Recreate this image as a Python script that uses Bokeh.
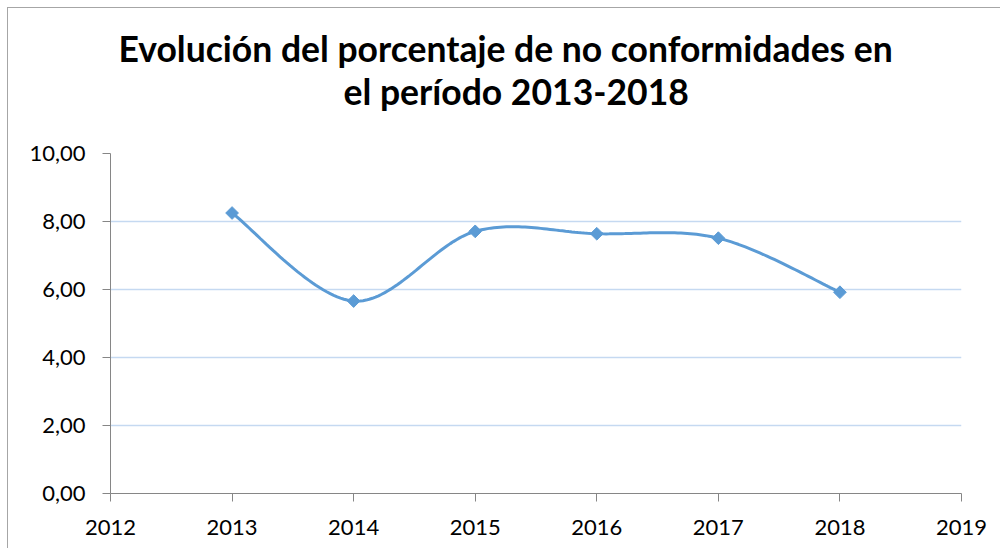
import numpy as np
from bokeh.plotting import figure
from bokeh.models import FixedTicker, Title
from bokeh.embed import file_html
from bokeh.resources import INLINE

# ---- data ----
years = [2013, 2014, 2015, 2016, 2017, 2018]
values = [8.25, 5.66, 7.71, 7.64, 7.51, 5.92]
x_ticks = [2012, 2013, 2014, 2015, 2016, 2017, 2018, 2019]
y_ticks = [0, 2, 4, 6, 8, 10]
y_tick_labels = ["0,00", "2,00", "4,00", "6,00", "8,00", "10,00"]
title_lines = ["Evolución del porcentaje de no conformidades en",
               "el período 2013-2018"]

BLUE = "#5B9BD5"
FONT = "Lato"

# ---- smooth curve (Excel-like Bezier smoothing through the data points) ----
def smooth(xs, ys, n=40):
    P = np.column_stack([xs, ys]).astype(float)
    m = len(P)
    out = []
    for i in range(m - 1):
        p0 = P[i]
        p3 = P[i + 1]
        prev = P[i - 1] if i > 0 else P[i]
        nxt = P[i + 2] if i + 2 < m else P[i + 1]
        c1 = p0 + (p3 - prev) / 6.0
        c2 = p3 - (nxt - p0) / 6.0
        t = np.linspace(0, 1, n)[:, None]
        seg = ((1 - t) ** 3) * p0 + 3 * ((1 - t) ** 2) * t * c1 + 3 * (1 - t) * t ** 2 * c2 + t ** 3 * p3
        out.append(seg if i == 0 else seg[1:])
    pts = np.vstack(out)
    return pts[:, 0], pts[:, 1]

sx, sy = smooth(years, values)

p = figure(width=997, height=541, x_range=(2012, 2019), y_range=(0, 10),
           output_backend="svg", toolbar_location=None,
           min_border_left=102, min_border_right=44,
           min_border_top=145, min_border_bottom=56)
p.styles = {
    "margin-left": "7px",
    "margin-top": "7px",
    "border-left": "1.5px solid #a6a6a6",
    "border-top": "1.5px solid #a6a6a6",
    "clip-path": "inset(0px 4px 0px 0px)",
}
p.outline_line_color = None
p.background_fill_color = "white"
p.border_fill_color = "white"

p.xgrid.visible = False
p.ygrid.grid_line_color = "#C5D9F1"
p.ygrid.grid_line_width = 1.5
p.ygrid.ticker = FixedTicker(ticks=y_ticks)

for ax in (p.xaxis[0], p.yaxis[0]):
    ax.axis_line_color = "#868686"
    ax.axis_line_width = 1
    ax.major_tick_line_color = "#868686"
    ax.major_tick_in = 0
    ax.major_tick_out = 8
    ax.minor_tick_line_color = None
    ax.major_label_text_font = FONT
    ax.major_label_text_font_size = "22px"
    ax.major_label_text_color = "black"

p.xaxis.ticker = FixedTicker(ticks=x_ticks)
p.xaxis.major_label_standoff = 18
p.yaxis.ticker = FixedTicker(ticks=y_ticks)
p.yaxis.major_label_overrides = {t: lab for t, lab in zip(y_ticks, y_tick_labels)}
p.yaxis.major_label_standoff = 17

p.line(sx, sy, line_color=BLUE, line_width=3)
p.scatter(years, values, marker="square", size=9, angle=np.pi / 4,
          fill_color=BLUE, line_color=BLUE)

# title lines: second line nearest the plot, first line above it
for line, off, so in [(title_lines[1], 233, 81), (title_lines[0], 8, -84)]:
    p.add_layout(Title(text=line, align="left", offset=off, standoff=so,
                       text_font=FONT, text_font_style="bold",
                       text_font_size="35.5px", text_color="black"), "above")

open("out.html", "w").write(file_html(p, INLINE))
